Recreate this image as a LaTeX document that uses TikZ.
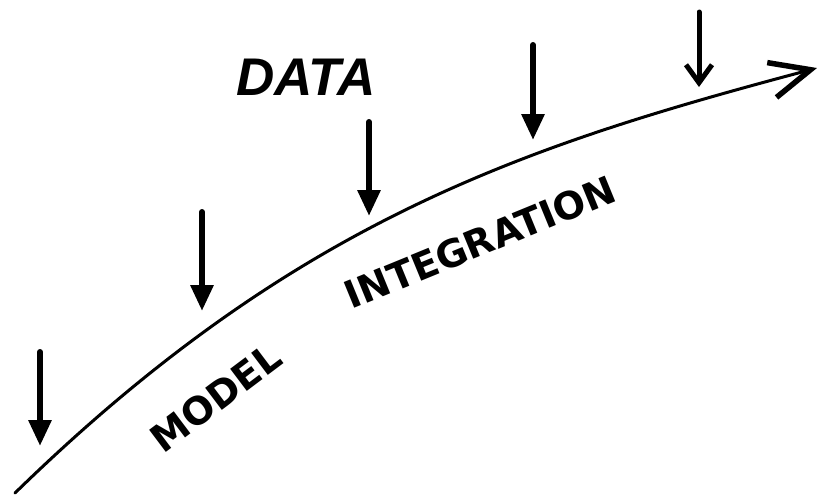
\documentclass[tikz,border=0pt]{standalone}
\usepackage{fontspec}
\newfontfamily\titlefont{Liberation Sans}
\newfontfamily\letterfont{DejaVu Sans}
\usetikzlibrary{arrows.meta}
\tikzset{
  feed/.style={line width=6pt, line cap=round, -{Triangle[length=26pt,width=22pt]}},
  feedbarb/.style={line width=5pt, line cap=round, -{Straight Barb[length=18pt,width=26pt,line width=5pt]}},
  flow/.style={line width=3pt, line cap=round, -{Straight Barb[length=40pt,width=36pt,line width=5.5pt]}},
  hand/.style={font=\titlefont\bfseries\itshape\fontsize{53}{53}\selectfont, inner sep=0pt},
  along/.style={font=\letterfont\bfseries\fontsize{38}{38}\selectfont, inner sep=0pt}
}
\begin{document}
\begin{tikzpicture}[x=1pt,y=-1pt]
\useasboundingbox (0,0) rectangle (817,496);

% the model trajectory
\coordinate (start) at (15,493);
\coordinate (finish) at (817,68);
\draw[flow] (start) .. controls (295,220) and (524,146) .. (finish);

% incoming observations
\coordinate (a1) at (40,352);  \coordinate (b1) at (40,446);
\coordinate (a2) at (202,212); \coordinate (b2) at (202,311);
\coordinate (a3) at (369,122); \coordinate (b3) at (369,216);
\coordinate (a4) at (533,45);  \coordinate (b4) at (533,140);
\coordinate (a5) at (699,12);  \coordinate (b5) at (699,87);
\draw[feed] (a1) -- (b1);
\draw[feed] (a2) -- (b2);
\draw[feed] (a3) -- (b3);
\draw[feed] (a4) -- (b4);
\draw[feedbarb] (a5) -- (b5);

% labels
\node[hand] (data) at (306,77) {DATA};
\node[along, rotate=37] (model) at (216,398) {MODEL};
\node[along, rotate=22.3] (integ) at (480,242) {INTEGRATION};
\end{tikzpicture}
\end{document}
